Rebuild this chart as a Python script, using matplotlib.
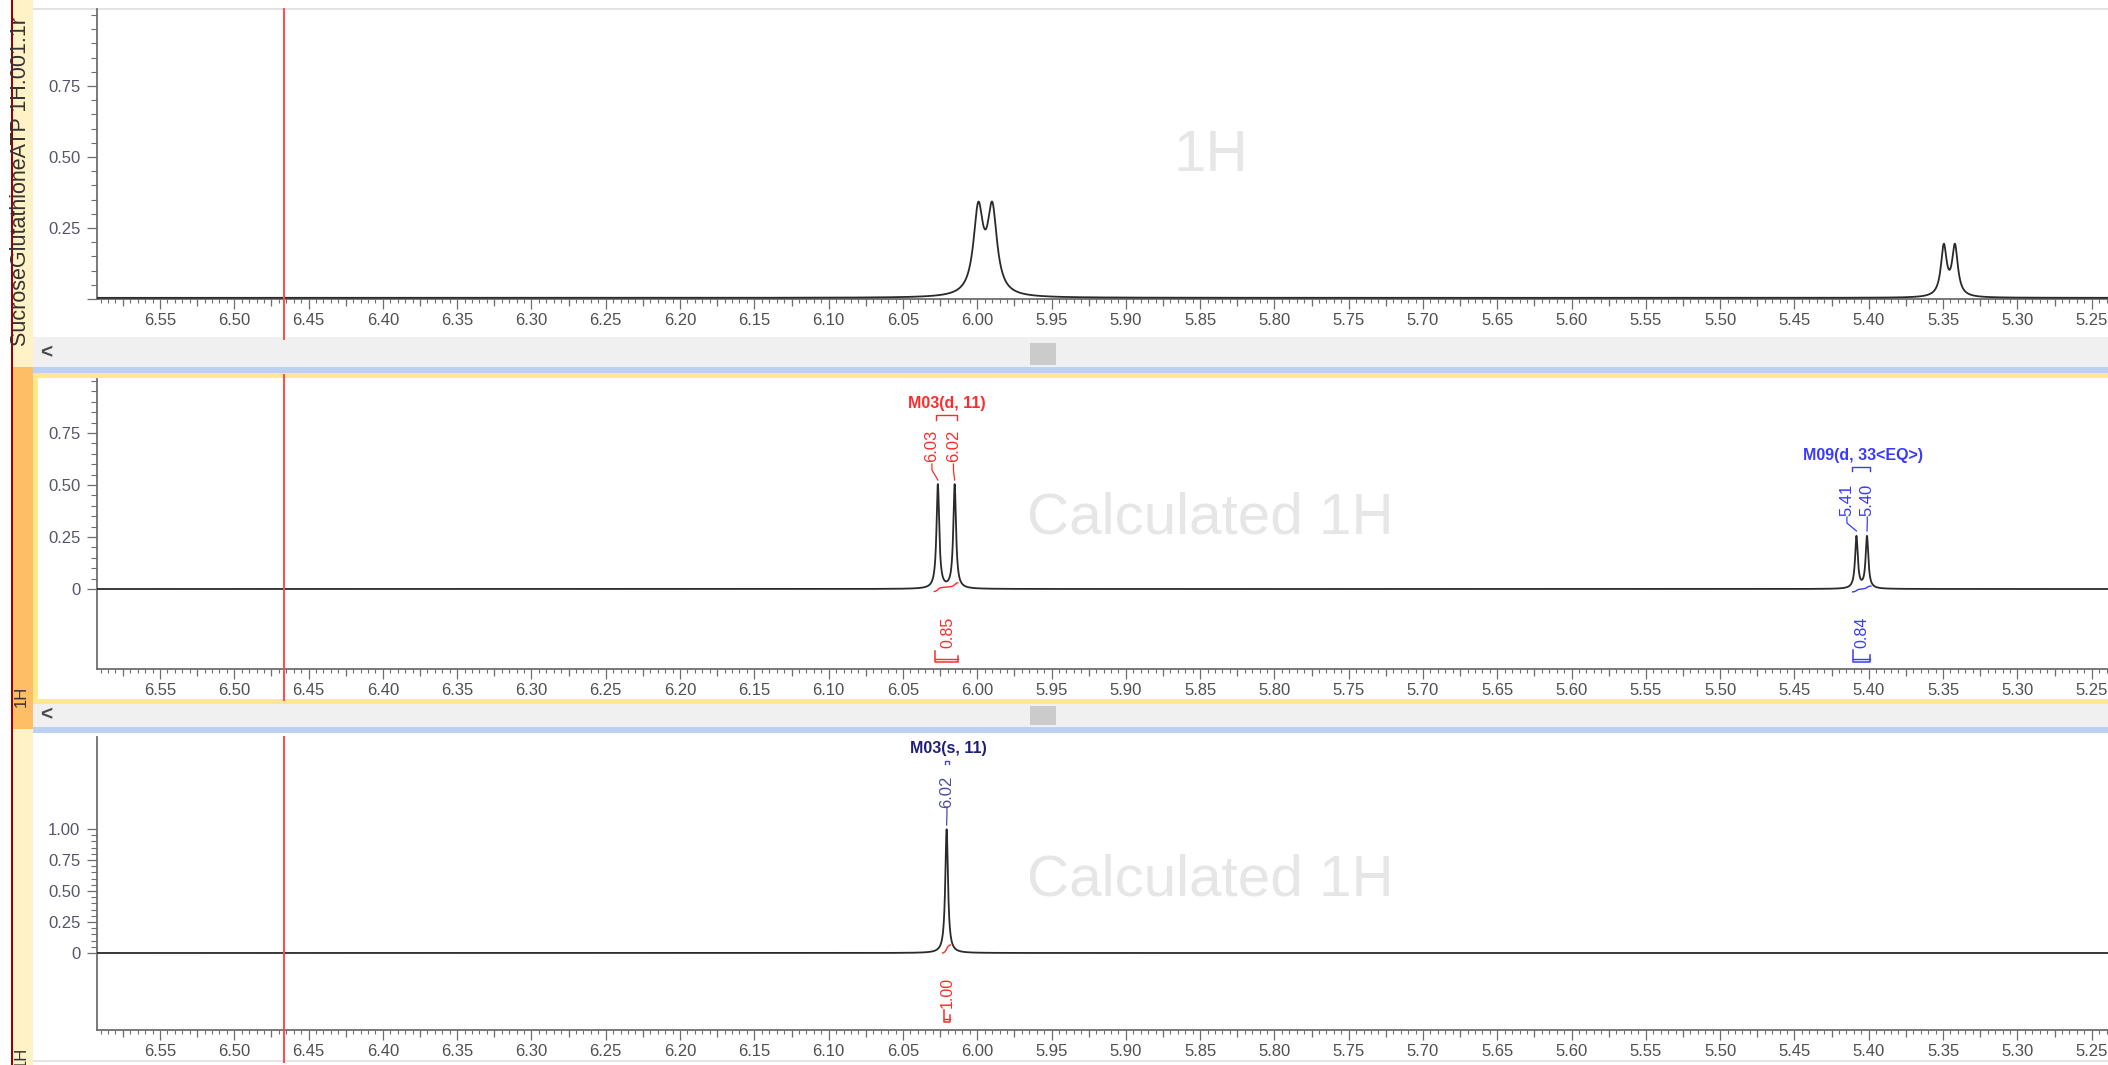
import numpy as np
import matplotlib
matplotlib.use("Agg")
import matplotlib.pyplot as plt
from matplotlib.ticker import FixedLocator, FixedFormatter
from matplotlib.patches import Rectangle

plt.rcParams["font.family"] = ["Liberation Sans", "DejaVu Sans"]

# ---------------- data ----------------
ppm_limits = (6.5924, 5.2390)
cursor_ppm = 6.4666

x_tick_values = [6.55, 6.50, 6.45, 6.40, 6.35, 6.30, 6.25, 6.20, 6.15, 6.10, 6.05,
                 6.00, 5.95, 5.90, 5.85, 5.80, 5.75, 5.70, 5.65, 5.60, 5.55, 5.50,
                 5.45, 5.40, 5.35, 5.30, 5.25]
x_tick_labels = ["6.55", "6.50", "6.45", "6.40", "6.35", "6.30", "6.25", "6.20", "6.15",
                 "6.10", "6.05", "6.00", "5.95", "5.90", "5.85", "5.80", "5.75", "5.70",
                 "5.65", "5.60", "5.55", "5.50", "5.45", "5.40", "5.35", "5.30", "5.25"]

# panel 1: measured spectrum
exp_name = "SucroseGlutathioneATP 1H.001.1r"
exp_peak_ppm = [5.9993, 5.9899, 5.3495, 5.3420]
exp_peak_height = [0.295, 0.295, 0.175, 0.175]
exp_peak_fwhm = [0.0078, 0.0078, 0.0047, 0.0047]
exp_ytick_values = [0.0, 0.25, 0.50, 0.75]
exp_ytick_labels = ["", "0.25", "0.50", "0.75"]

# panel 2: calculated 1H (two doublets)
calc_peak_ppm = [6.0265, 6.0152, 5.4083, 5.4012]
calc_peak_height = [0.50, 0.50, 0.25, 0.25]
calc_peak_fwhm = [0.0022, 0.0022, 0.0022, 0.0022]
calc_ytick_values = [0.0, 0.25, 0.50, 0.75]
calc_ytick_labels = ["0", "0.25", "0.50", "0.75"]
calc_multiplet_names = ["M03(d, 11)", "M09(d, 33<EQ>)"]
calc_shift_labels = [["6.03", "6.02"], ["5.41", "5.40"]]
calc_integral_values = ["0.85", "0.84"]

# panel 3: calculated 1H (singlet)
calc2_peak_ppm = [6.0206]
calc2_peak_height = [1.0]
calc2_peak_fwhm = [0.0022]
calc2_ytick_values = [0.0, 0.25, 0.50, 0.75, 1.00]
calc2_ytick_labels = ["0", "0.25", "0.50", "0.75", "1.00"]
calc2_multiplet_names = ["M03(s, 11)"]
calc2_shift_labels = [["6.02"]]
calc2_integral_values = ["1.00"]

# ---------------- helpers ----------------
W, H = 2108, 1065
fig = plt.figure(figsize=(W / 100, H / 100), dpi=100)
fig.patch.set_facecolor("white")

RED = "#FF2B2B"
BLUE = "#3A3AFF"
NAVY = "#1F1F7A"
PURP = "#4C4CA8"
SPINE = "#6E6E6E"
XLAB = "#505050"
YLAB = "#55556A"


def frect(x0, y0, x1, y1, color, z=-5):
    fig.patches.append(Rectangle((x0 / W, 1 - y1 / H), (x1 - x0) / W, (y1 - y0) / H,
                                 transform=fig.transFigure, facecolor=color,
                                 edgecolor="none", zorder=z))


def ftext(px, py, s, **kw):
    fig.text(px / W, 1 - py / H, s, **kw)


def add_axes(left, top, right, bottom):
    return fig.add_axes([left / W, 1 - bottom / H, (right - left) / W, (bottom - top) / H])


def lorentz(x, centers, heights, fwhms):
    y = np.zeros_like(x)
    for c, h, w in zip(centers, heights, fwhms):
        g = (w / 2) ** 2
        y += h * g / ((x - c) ** 2 + g)
    return y


def style_axes(ax, ylim, yticks, ylabels):
    ax.set_facecolor("none")
    ax.set_xlim(*ppm_limits)
    ax.set_ylim(*ylim)
    for s in ("top", "right"):
        ax.spines[s].set_visible(False)
    for s in ("left", "bottom"):
        ax.spines[s].set_color(SPINE)
        ax.spines[s].set_linewidth(1.3)
    ax.xaxis.set_major_locator(FixedLocator(x_tick_values))
    ax.xaxis.set_major_formatter(FixedFormatter(x_tick_labels))
    ax.xaxis.set_minor_locator(FixedLocator(np.arange(5.235, 6.595, 0.005)))
    ax.yaxis.set_major_locator(FixedLocator(yticks))
    ax.yaxis.set_major_formatter(FixedFormatter(ylabels))
    ax.yaxis.set_minor_locator(FixedLocator(np.arange(0.0, 1.0001, 0.05)))
    ax.tick_params(axis="x", which="major", direction="out", length=7, width=0.9,
                   color=SPINE, labelsize=12, labelcolor=XLAB, pad=3)
    ax.tick_params(axis="x", which="minor", direction="out", length=3, width=0.8, color=SPINE)
    ax.tick_params(axis="y", which="major", direction="out", length=7, width=0.9,
                   color=SPINE, labelsize=12, labelcolor=YLAB, pad=5)
    ax.tick_params(axis="y", which="minor", direction="out", length=4, width=0.8, color=SPINE)
    sec = ax.secondary_xaxis("bottom")
    sec.set_xticks([v + 0.025 for v in x_tick_values] + [5.225], labels=[""] * 28)
    sec.tick_params(length=5, width=0.9, color=SPINE)
    sec.spines["bottom"].set_visible(False)


def integral_curve(x, y, a, b, y0, y1):
    m = (x <= a) & (x >= b)
    xs, ys = x[m], y[m]
    c = np.concatenate([[0], np.cumsum((ys[1:] + ys[:-1]) / 2 * np.abs(np.diff(xs)))])
    c = c / c[-1]
    return xs, y0 + (y1 - y0) * c


def shift_label(ax, text, lx, px, ytop, ybot, ymid, yend, color):
    ax.text(lx, ytop, text, rotation=90, ha="center", va="center", fontsize=12, color=color)
    ax.plot([lx, lx, px], [ybot, ymid, yend], color=color, lw=0.9, clip_on=False)


def integral_bracket(ax, x0, x1, ytop, ybot, color):
    ax.plot([x0, x0, x1, x1], [ytop, ybot, ybot, ytop + (ybot - ytop) * 0.4],
            color=color, lw=1.1, clip_on=False)
    ax.plot([x0, x1], [ybot + (ytop - ybot) * 0.25] * 2, color=color, lw=1.0, clip_on=False)


# ---------------- background chrome ----------------
frect(0, 0, W, H, "white", z=-10)
# left strip
frect(12, 0, 33, 367, "#FFF2C6")
frect(12, 367, 33, 729, "#FDBE66")
frect(12, 729, 33, H, "#FFF2C6")
frect(10.5, 0, 13, H, "#9B0000", z=-4)
# top border line
frect(33, 8, W, 9.5, "#E2E2E2")
# scrollbar 1
frect(33, 337, W, 367, "#F0F0F0")
frect(33, 367, W, 373, "#BBD0F3")
frect(1030, 343, 1056, 365, "#CBCBCB", z=-3)
# panel 2 frame
frect(33, 373, W, 704, "#FFE98F")
frect(38, 378, W, 699, "white", z=-4)
# scrollbar 2
frect(33, 704, W, 727, "#F0F0F0")
frect(33, 727, W, 733, "#BBD0F3")
frect(1030, 706, 1056, 725, "#CBCBCB", z=-3)
# bottom border
frect(33, 1060, W, 1062, "#E6E6E6")
ftext(46, 353, "<", fontsize=15, fontweight="bold", color="#4A4A4A", ha="center", va="center")
ftext(46, 715, "<", fontsize=15, fontweight="bold", color="#4A4A4A", ha="center", va="center")
# strip labels
ftext(21, 346, exp_name, rotation=90, fontsize=15.5, color="#333333", ha="center", va="bottom")
ftext(21, 696, "1H", rotation=90, fontsize=12, color="#333333", ha="center", va="center")
ftext(21, 1057, "1H", rotation=90, fontsize=12, color="#333333", ha="center", va="center")
# watermarks
ftext(1211, 156, "1H", fontsize=42, color="#E6E6E6", ha="center", va="center", zorder=-1)
ftext(1210, 519, "Calculated 1H", fontsize=42, color="#E6E6E6", ha="center", va="center", zorder=-1)
ftext(1210, 880, "Calculated 1H", fontsize=42, color="#E6E6E6", ha="center", va="center", zorder=-1)

ppm = np.linspace(ppm_limits[0], ppm_limits[1], 12000)

# ---------------- panel 1 ----------------
ax1 = add_axes(97, 9, W, 299)
style_axes(ax1, (0.0, 1.021), exp_ytick_values, exp_ytick_labels)
spec1 = lorentz(ppm, exp_peak_ppm, exp_peak_height, exp_peak_fwhm) + 0.004
ax1.plot(ppm, spec1, color="#2A2A2A", lw=1.3, zorder=3)
ax1.axvline(cursor_ppm, ymin=-0.138, ymax=1.0, color="#FF4A4A", lw=1.4, clip_on=False, zorder=5)

# ---------------- panel 2 ----------------
ax2 = add_axes(97, 379, W, 669)
style_axes(ax2, (-0.3846, 1.0096), calc_ytick_values, calc_ytick_labels)
spec2 = lorentz(ppm, calc_peak_ppm, calc_peak_height, calc_peak_fwhm)
ax2.plot(ppm, spec2, color="#2A2A2A", lw=1.3, zorder=3)
ax2.axvline(cursor_ppm, ymin=-0.107, ymax=1.015, color="#FF4A4A", lw=1.4, clip_on=False, zorder=5)

# M03 doublet
ax2.text(6.0204, 0.894, calc_multiplet_names[0], color=RED, fontsize=11.5, fontweight="bold",
         ha="center", va="center")
ax2.plot([6.0277, 6.0277, 6.0136, 6.0136], [0.812, 0.837, 0.837, 0.812], color=RED, lw=1.0)
shift_label(ax2, calc_shift_labels[0][0], 6.0305, 6.0265, 0.6875, 0.601, 0.572, 0.524, RED)
shift_label(ax2, calc_shift_labels[0][1], 6.0160, 6.0152, 0.6875, 0.601, 0.572, 0.524, RED)
xi, yi = integral_curve(ppm, spec2, 6.0290, 6.0130, -0.012, 0.030)
ax2.plot(xi, yi, color=RED, lw=1.0, zorder=4)
ax2.text(6.0197, -0.207, calc_integral_values[0], rotation=90, ha="center", va="center",
         fontsize=11.5, color=RED)
integral_bracket(ax2, 6.0285, 6.0132, -0.300, -0.351, RED)

# M09 doublet
ax2.text(5.4036, 0.644, calc_multiplet_names[1], color=BLUE, fontsize=11.5, fontweight="bold",
         ha="center", va="center")
ax2.plot([5.4114, 5.4114, 5.3993, 5.3993], [0.567, 0.587, 0.587, 0.567], color=BLUE, lw=1.0)
shift_label(ax2, calc_shift_labels[1][0], 5.4147, 5.4083, 0.428, 0.346, 0.317, 0.279, BLUE)
shift_label(ax2, calc_shift_labels[1][1], 5.4010, 5.4012, 0.428, 0.346, 0.317, 0.279, BLUE)
xi, yi = integral_curve(ppm, spec2, 5.4110, 5.3985, -0.014, 0.014)
ax2.plot(xi, yi, color=BLUE, lw=1.0, zorder=4)
ax2.text(5.4047, -0.207, calc_integral_values[1], rotation=90, ha="center", va="center",
         fontsize=11.5, color=BLUE)
integral_bracket(ax2, 5.4107, 5.3993, -0.293, -0.351, BLUE)

# ---------------- panel 3 ----------------
ax3 = add_axes(97, 737, W, 1030)
style_axes(ax3, (-0.621, 1.742), calc2_ytick_values, calc2_ytick_labels)
spec3 = lorentz(ppm, calc2_peak_ppm, calc2_peak_height, calc2_peak_fwhm)
ax3.plot(ppm, spec3, color="#2A2A2A", lw=1.3, zorder=3)
ax3.axvline(cursor_ppm, ymin=-0.109, ymax=1.0, color="#FF4A4A", lw=1.4, clip_on=False, zorder=5)

ax3.text(6.0197, 1.653, calc2_multiplet_names[0], color=NAVY, fontsize=11.5, fontweight="bold",
         ha="center", va="center")
ax3.plot([6.0215, 6.0215, 6.0193, 6.0193], [1.525, 1.545, 1.545, 1.525], color=PURP, lw=1.0)
shift_label(ax3, calc2_shift_labels[0][0], 6.0204, 6.0206, 1.298, 1.177, 1.12, 1.032, PURP)
xi, yi = integral_curve(ppm, spec3, 6.0233, 6.0180, 0.0, 0.065)
ax3.plot(xi, yi, color=RED, lw=1.0, zorder=4)
ax3.text(6.0200, -0.315, calc2_integral_values[0], rotation=90, ha="center", va="center",
         fontsize=11.5, color=RED)
integral_bracket(ax3, 6.0225, 6.0185, -0.46, -0.556, RED)

fig.savefig("out.png", dpi=100)
